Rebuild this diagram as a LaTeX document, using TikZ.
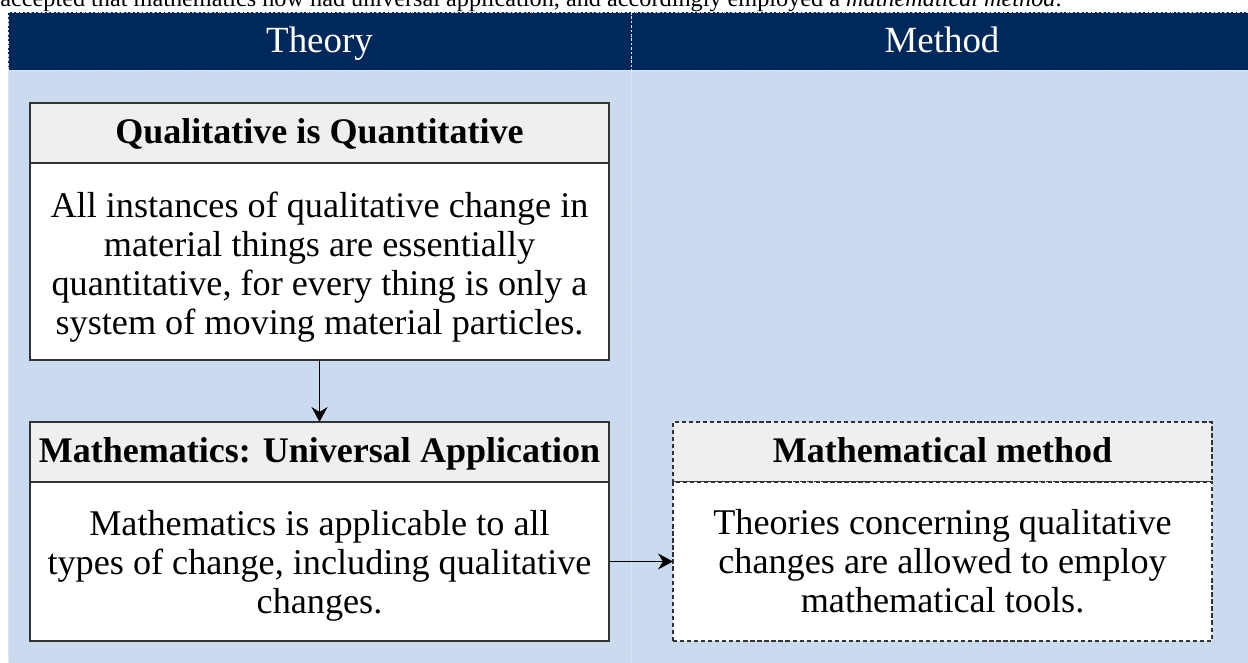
\documentclass[tikz,border=0pt]{standalone}
\usepackage{fontspec}
\setmainfont{Liberation Serif}
\newfontfamily\thserif{Liberation Serif}
\usepackage{xcolor}
\usepackage{tikz}
\usetikzlibrary{arrows.meta,positioning}
\definecolor{thnavy}{HTML}{00285A}
\definecolor{thpale}{HTML}{CADBF0}
\definecolor{thhead}{HTML}{EFEFEF}
\definecolor{thedge}{HTML}{333333}
\definecolor{thgrid}{HTML}{E2E8F2}

\begin{document}
\begin{tikzpicture}[
  node distance=12.4mm and 12.8mm,
  colhead/.style={font=\thserif\fontsize{21}{24}\selectfont,text=white,inner sep=0pt,anchor=base},
  boxhead/.style={draw=thedge,line width=0.7pt,fill=thhead,minimum height=12mm,inner sep=0pt,outer sep=0pt,text depth=0.4ex,font=\thserif\fontsize{20.5}{24}\selectfont\bfseries},
  boxbody/.style={draw=thedge,line width=0.7pt,fill=white,inner sep=0pt,outer sep=0pt,align=center,font=\thserif\fontsize{20.6}{22.2}\selectfont},
  wide/.style={minimum width=115.8mm},
  narrow/.style={minimum width=107.8mm},
  ghost/.style={dash pattern=on 2.4pt off 1.6pt},
  arr/.style={-{Stealth[length=3mm,width=3.2mm,inset=1mm]},line width=0.7pt},
  grid/.style={draw=thgrid,dash pattern=on 1.5pt off 1pt,line width=0.5pt}
]
\useasboundingbox (0,0) rectangle (24.96,-13.26);
\clip (0,0) rectangle (24.96,-13.26);
\node[anchor=base west,inner sep=0pt,font=\thserif\fontsize{13.8}{16}\selectfont] (intro) at (0,-0.14) {accepted that mathematics now had universal application, and accordingly employed a \textit{mathematical method}.};
\fill[thnavy] (0.16,-0.24) rectangle (24.96,-1.40);
\fill[thpale] (0.16,-1.40) rectangle (24.96,-13.26);
\draw[grid] (0.16,-13.26) -- (0.16,-0.24) -- (24.96,-0.24);
\draw[grid] (0.16,-1.40) -- (24.96,-1.40);
\draw[grid] (12.62,-0.24) -- (12.62,-13.26);
\node[colhead] (theory) at (6.39,-1.06) {Theory};
\node[colhead] (method) at (18.84,-1.06) {Method};
\node[boxhead,wide,anchor=north west] (qualhead) at (0.60,-2.06) {Qualitative is Quantitative};
\node[boxbody,wide,minimum height=39.4mm,text height=87.5pt,below=0pt of qualhead] (qualbody) {All instances of qualitative change in\\material things are essentially\\quantitative, for every thing is only a\\system of moving material particles.};
\node[boxhead,wide,below=of qualbody] (mathhead) {Mathematics: Universal Application};
\node[boxbody,wide,minimum height=31.8mm,text height=64pt,below=0pt of mathhead] (mathbody) {Mathematics is applicable to all\\types of change, including qualitative\\changes.};
\node[boxhead,narrow,ghost,right=of mathhead] (toolhead) {Mathematical method};
\node[boxbody,narrow,ghost,minimum height=31.8mm,below=0pt of toolhead] (toolbody) {Theories concerning qualitative\\changes are allowed to employ\\mathematical tools.};
\draw[arr] (qualbody) -- (mathhead);
\draw[arr] (mathbody) -- (toolbody);
\end{tikzpicture}
\end{document}
